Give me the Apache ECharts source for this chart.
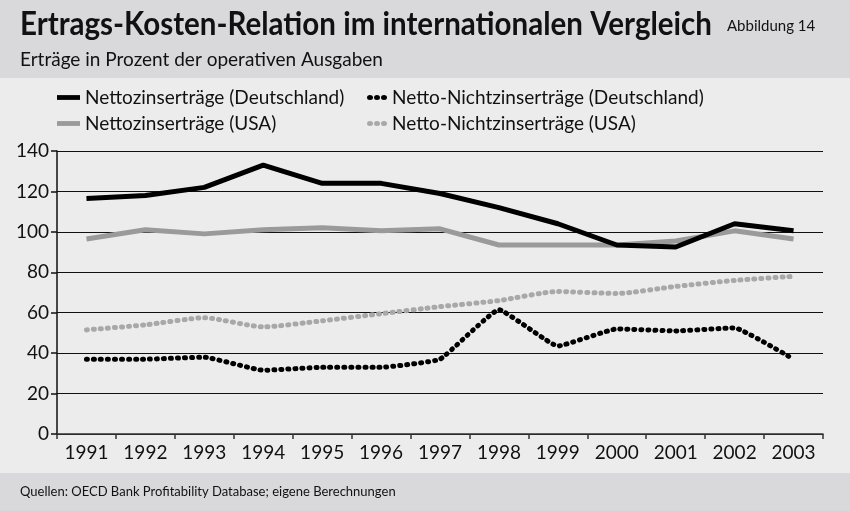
<!DOCTYPE html>
<html>
    <head>
        <meta charset="utf-8">
        <title>Ertrags-Kosten-Relation</title>
        <script src="https://cdn.jsdelivr.net/npm/echarts@6/dist/echarts.min.js"></script>
        <style>
            body { margin: 0; }
            #main { width: 850px; height: 511px; }
        </style>
    </head>
    <body>
        <div id="main"></div>
        <script type="text/javascript">
            // Jahre
            var years = ['1991','1992','1993','1994','1995','1996','1997','1998','1999','2000','2001','2002','2003'];
            // Erträge in % der operativen Ausgaben
            var nzDE  = [116.5, 118, 122, 133, 124, 124, 119, 112, 104, 93.5, 92.5, 104, 100.5];
            var nnzDE = [37, 37, 38, 31.5, 33, 33, 37, 61.5, 43.5, 52, 51, 52.5, 37];
            var nzUS  = [96.5, 101, 99, 101, 102, 100.5, 101.5, 93.5, 93.5, 93.5, 95.5, 100.5, 96.5];
            var nnzUS = [51.5, 54, 57.5, 53, 56, 59.5, 63, 66, 70.5, 69.5, 73, 76, 78];
            var yTicks = [0, 20, 40, 60, 80, 100, 120, 140];

            var names = ['Nettozinserträge (Deutschland)', 'Netto-Nichtzinserträge (Deutschland)',
                         'Nettozinserträge (USA)', 'Netto-Nichtzinserträge (USA)'];

            var bodyFont = 'Lato';
            var dots = [1, 6];
            var titleText = 'Ertrags-Kosten-Relation im internationalen Vergleich';

            // Titel ist im Original schmal gesetzt -> horizontal stauchen
            var ctx = document.createElement('canvas').getContext('2d');
            ctx.font = 'bold 32px Lato';
            var titleScale = 692 / ctx.measureText(titleText).width;

            // Legendensymbole: dicke Linie bzw. drei Punkte
            var iconLine = 'path://M0,0H24V5H0Z';
            var iconDots = 'path://M0,2.5a3,2.5 0 1,0 6,0a3,2.5 0 1,0 -6,0M7,2.5a3,2.5 0 1,0 6,0a3,2.5 0 1,0 -6,0M14,2.5a3,2.5 0 1,0 6,0a3,2.5 0 1,0 -6,0';

            var myChart = echarts.init(document.getElementById('main'));

            function legendAt(name, icon, w, left, top) {
                return {
                    data: [{ name: name, icon: icon }],
                    left: left,
                    top: top,
                    padding: 0,
                    itemWidth: w,
                    itemHeight: 5,
                    itemGap: 0,
                    textStyle: { fontFamily: bodyFont, fontSize: 19, color: '#111', padding: [0, 0, 0, 0] }
                };
            }

            var option = {
                backgroundColor: '#ececec',
                animation: false,
                graphic: [
                    { type: 'rect', shape: { x: 0, y: 0, width: 850, height: 78 }, style: { fill: '#d9d9db' }, z: 0 },
                    { type: 'rect', shape: { x: 0, y: 473, width: 850, height: 38 }, style: { fill: '#d9d9db' }, z: 0 },
                    { type: 'text', x: 20, y: 25, scaleX: titleScale, z: 1, style: {
                        text: titleText,
                        fontFamily: 'Lato', fontWeight: 'bold', fontSize: 32,
                        fill: '#111', verticalAlign: 'middle' } },
                    { type: 'text', x: 727, y: 26, z: 1, style: {
                        text: 'Abbildung 14', fontFamily: bodyFont, fontSize: 15, fill: '#111', verticalAlign: 'middle' } },
                    { type: 'text', x: 20, y: 60, z: 1, style: {
                        text: 'Erträge in Prozent der operativen Ausgaben', fontFamily: bodyFont, fontSize: 19,
                        fill: '#111', verticalAlign: 'middle' } },
                    { type: 'text', x: 20, y: 492, z: 1, style: {
                        text: 'Quellen: OECD Bank Profitability Database; eigene Berechnungen', fontFamily: bodyFont,
                        fontSize: 13, fill: '#111', verticalAlign: 'middle' } }
                ],
                legend: [
                    legendAt(names[0], iconLine, 23, 57, 88),
                    legendAt(names[1], iconDots, 20, 367, 88),
                    legendAt(names[2], iconLine, 23, 57, 114),
                    legendAt(names[3], iconDots, 20, 367, 114)
                ],
                grid: { left: 57, right: 27, top: 151, bottom: 77 },
                xAxis: {
                    type: 'category',
                    data: years,
                    boundaryGap: true,
                    axisLine: { lineStyle: { color: '#333', width: 1.5 } },
                    axisTick: { show: true, length: 5, lineStyle: { color: '#333', width: 1.5 } },
                    axisLabel: { fontFamily: bodyFont, fontSize: 19, color: '#111', margin: 9, interval: 0 }
                },
                yAxis: {
                    type: 'value',
                    min: yTicks[0],
                    max: yTicks[yTicks.length - 1],
                    interval: yTicks[1] - yTicks[0],
                    axisLine: { show: true, lineStyle: { color: '#111', width: 1.5 } },
                    axisTick: { show: true, length: 6, lineStyle: { color: '#111', width: 1.5 } },
                    axisLabel: { fontFamily: bodyFont, fontSize: 19, color: '#111', margin: 8 },
                    splitLine: { lineStyle: { color: '#111', width: 1.2 } }
                },
                series: [
                    {
                        name: names[3], type: 'line', data: nnzUS, symbol: 'none', smooth: 0.2,
                        lineStyle: { color: '#a8a8a8', width: 5, type: dots, cap: 'round' },
                        itemStyle: { color: '#a8a8a8' }
                    },
                    {
                        name: names[2], type: 'line', data: nzUS, symbol: 'none',
                        lineStyle: { color: '#9a9a9a', width: 5 },
                        itemStyle: { color: '#9a9a9a' }
                    },
                    {
                        name: names[1], type: 'line', data: nnzDE, symbol: 'none', smooth: 0.1,
                        lineStyle: { color: '#000', width: 5, type: dots, cap: 'round' },
                        itemStyle: { color: '#000' }
                    },
                    {
                        name: names[0], type: 'line', data: nzDE, symbol: 'none',
                        lineStyle: { color: '#000', width: 5 },
                        itemStyle: { color: '#000' }
                    }
                ]
            };

            myChart.setOption(option);
        </script>
    </body>
</html>
